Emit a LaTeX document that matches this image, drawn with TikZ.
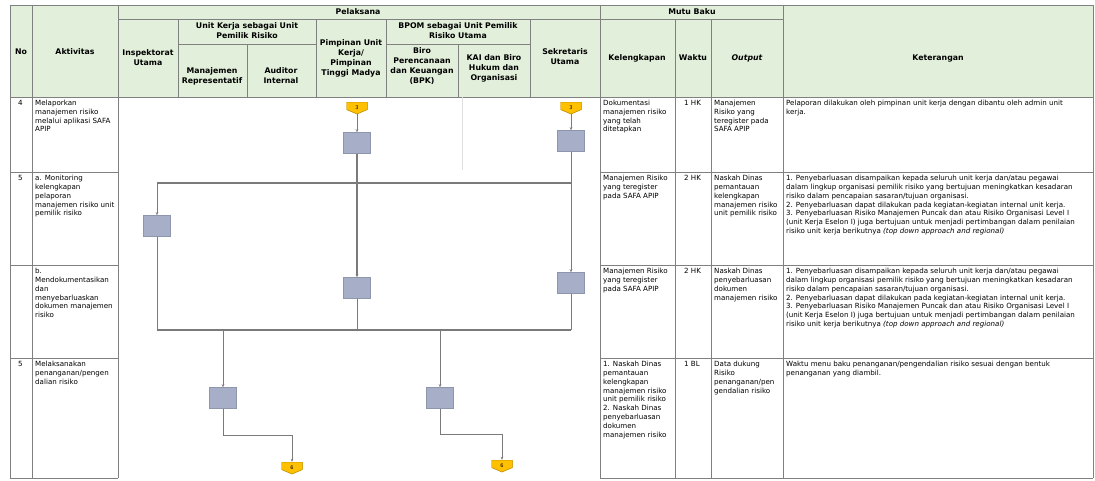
\documentclass[tikz,border=0pt]{standalone}
\usepackage{fontspec}
\setmainfont{DejaVu Sans}
\usetikzlibrary{arrows.meta}
\definecolor{hdr}{HTML}{E2EFDA}
\definecolor{gridc}{HTML}{808080}
\definecolor{procf}{HTML}{A7AFC8}
\definecolor{procd}{HTML}{8E96AE}
\definecolor{connf}{HTML}{FFC000}
\definecolor{connd}{HTML}{C08F00}
\definecolor{flowc}{HTML}{7A7A7A}
\begin{document}
\begin{tikzpicture}[x=1pt,y=-1pt,
 hd/.style={font=\fontsize{7.8}{10}\selectfont\bfseries, align=center, inner sep=0},
 bt/.style={font=\fontsize{7.1}{8.8}\selectfont, align=left, anchor=north west, inner sep=0},
 gl/.style={draw=gridc, line width=0.8pt},
 proc/.style={rectangle, fill=procf, draw=procd, line width=0.6pt, minimum width=27pt, minimum height=21pt, inner sep=0},
 conn/.style={rectangle, minimum width=21pt, minimum height=12pt, inner sep=0, font=\fontsize{5}{5}\selectfont,
   path picture={\filldraw[fill=connf, draw=connd, line width=0.6pt]
     (path picture bounding box.north west) -- (path picture bounding box.north east)
     -- ([yshift=4.5pt]path picture bounding box.south east) -- (path picture bounding box.south)
     -- ([yshift=4.5pt]path picture bounding box.south west) -- cycle;}},
 fl/.style={draw=flowc, line width=1pt},
 ar/.style={fl, -{Stealth[length=3pt,width=2.6pt]}},
]
\useasboundingbox (0,0) rectangle (1095,480);
\fill[white] (0,0) rectangle (1095,480);
% header fill
\fill[hdr] (10,5) rectangle (1093,97);
% grid: horizontal
\draw[gl] (10,5) -- (1093,5);
\draw[gl] (118,19) -- (600,19);
\draw[gl] (600,19) -- (783,19);
\draw[gl] (178,44) -- (316,44);
\draw[gl] (386,44) -- (530,44);
\draw[gl] (10,97) -- (1093,97);
\foreach \yy in {172,265,358,478}{
  \draw[gl] (10,\yy) -- (118,\yy);
  \draw[gl] (600,\yy) -- (1093,\yy);
}
% grid: vertical
\foreach \xx in {10,32,118,600,783,1093}{\draw[gl] (\xx,5) -- (\xx,478);}
\foreach \xx in {675,711}{\draw[gl] (\xx,19) -- (\xx,478);}
\foreach \xx in {178,316,386,530}{\draw[gl] (\xx,19) -- (\xx,97);}
\foreach \xx in {247,458}{\draw[gl] (\xx,44) -- (\xx,97);}
\draw[gridc!25, line width=0.5pt] (462,97) -- (462,170);
% header texts
\node[hd] (hno) at (21,52) {No};
\node[hd] (hakt) at (75,52) {Aktivitas};
\node[hd] (hpel) at (358,12) {Pelaksana};
\node[hd] (hiu) at (148,58) {Inspektorat\\Utama};
\node[hd] (huk) at (247,31) {Unit Kerja sebagai Unit\\Pemilik Risiko};
\node[hd] (hmr) at (212,76) {Manajemen\\Representatif};
\node[hd] (hai) at (281,76) {Auditor\\Internal};
\node[hd] (hpu) at (351,58) {Pimpinan Unit\\Kerja/\\Pimpinan\\Tinggi Madya};
\node[hd] (hbp) at (458,31) {BPOM sebagai Unit Pemilik\\Risiko Utama};
\node[hd] (hbk) at (422,66) {Biro\\Perencanaan\\dan Keuangan\\(BPK)};
\node[hd] (hkai) at (494,68) {KAI dan Biro\\Hukum dan\\Organisasi};
\node[hd] (hsu) at (565,57) {Sekretaris\\Utama};
\node[hd] (hmb) at (692,12) {Mutu Baku};
\node[hd] (hkl) at (637,58) {Kelengkapan};
\node[hd] (hwk) at (693,58) {Waktu};
\node[hd, font=\fontsize{7.8}{10}\selectfont\bfseries\itshape] (hout) at (747,58) {Output};
\node[hd] (hket) at (938,58) {Keterangan};
% row 4
\node[bt] (n4) at (18,100) {4};
\node[bt] (a4) at (35,100) {Melaporkan\\manajemen risiko\\melalui aplikasi SAFA\\APIP};
\node[bt] (k4) at (603,100) {Dokumentasi\\manajemen risiko\\yang telah\\ditetapkan};
\node[bt] (w4) at (684,100) {1 HK};
\node[bt] (o4) at (714,100) {Manajemen\\Risiko yang\\teregister pada\\SAFA APIP};
\node[bt] (t4) at (786,100) {Pelaporan dilakukan oleh pimpinan unit kerja dengan dibantu oleh admin unit\\kerja.};
% row 5a
\node[bt] (n5) at (18,175) {5};
\node[bt] (a5) at (35,175) {a. Monitoring\\kelengkapan\\pelaporan\\manajemen risiko unit\\pemilik risiko};
\node[bt] (k5) at (603,175) {Manajemen Risiko\\yang teregister\\pada SAFA APIP};
\node[bt] (w5) at (684,175) {2 HK};
\node[bt] (o5) at (714,175) {Naskah Dinas\\pemantauan\\kelengkapan\\manajemen risiko\\unit pemilik risiko};
\node[bt] (t5) at (786,175) {1. Penyebarluasan disampaikan kepada seluruh unit kerja dan/atau pegawai\\dalam lingkup organisasi pemilik risiko yang bertujuan meningkatkan kesadaran\\risiko dalam pencapaian sasaran/tujuan organisasi.\\2. Penyebarluasan dapat dilakukan pada kegiatan-kegiatan internal unit kerja.\\3. Penyebarluasan Risiko Manajemen Puncak dan atau Risiko Organisasi Level I\\(unit Kerja Eselon I) juga bertujuan untuk menjadi pertimbangan dalam penilaian\\risiko unit kerja berikutnya \textit{(top down approach and regional)}};
% row 5b
\node[bt] (a5b) at (35,268) {b.\\Mendokumentasikan\\dan\\menyebarluaskan\\dokumen manajemen\\risiko};
\node[bt] (k5b) at (603,268) {Manajemen Risiko\\yang teregister\\pada SAFA APIP};
\node[bt] (w5b) at (684,268) {2 HK};
\node[bt] (o5b) at (714,268) {Naskah Dinas\\penyebarluasan\\dokumen\\manajemen risiko};
\node[bt] (t5b) at (786,268) {1. Penyebarluasan disampaikan kepada seluruh unit kerja dan/atau pegawai\\dalam lingkup organisasi pemilik risiko yang bertujuan meningkatkan kesadaran\\risiko dalam pencapaian sasaran/tujuan organisasi.\\2. Penyebarluasan dapat dilakukan pada kegiatan-kegiatan internal unit kerja.\\3. Penyebarluasan Risiko Manajemen Puncak dan atau Risiko Organisasi Level I\\(unit Kerja Eselon I) juga bertujuan untuk menjadi pertimbangan dalam penilaian\\risiko unit kerja berikutnya \textit{(top down approach and regional)}};
% row 6
\node[bt] (n6) at (18,361) {5};
\node[bt] (a6) at (35,361) {Melaksanakan\\penanganan/pengen\\dalian risiko};
\node[bt] (k6) at (603,361) {1. Naskah Dinas\\pemantauan\\kelengkapan\\manajemen risiko\\unit pemilik risiko\\2. Naskah Dinas\\penyebarluasan\\dokumen\\manajemen risiko};
\node[bt] (w6) at (684,361) {1 BL};
\node[bt] (o6) at (714,361) {Data dukung\\Risiko\\penanganan/pen\\gendalian risiko};
\node[bt] (t6) at (786,361) {Waktu menu baku penanganan/pengendalian risiko sesuai dengan bentuk\\penanganan yang diambil.};
% flow nodes
\node[conn] (c1) at (357,108) {3};
\node[conn] (c2) at (571,108) {3};
\node[proc] (p1) at (357,143) {};
\node[proc] (p2) at (571,141) {};
\node[proc] (p3) at (157,226) {};
\node[proc] (p4) at (357,288) {};
\node[proc] (p5) at (571,283) {};
\node[proc] (p6) at (223,398) {};
\node[proc] (p7) at (440,398) {};
\node[conn] (c3) at (292,468) {6};
\node[conn] (c4) at (502,466) {6};
\coordinate (j1) at (157,183);
\coordinate (j2) at (571,183);
\coordinate (k1) at (157,330);
\coordinate (k2) at (571,330);
\coordinate (k3) at (223,330);
\coordinate (k4) at (440,330);
\coordinate (b1) at (223,435);
\coordinate (b2) at (292,435);
\coordinate (b3) at (440,434);
\coordinate (b4) at (502,434);
% flow connectors
\draw[ar] (c1) -- (p1);
\draw[ar] (c2) -- (p2);
\draw[ar, line width=1.3pt] (p1) -- (p4);
\draw[ar] (p2) -- (p5);
\draw[fl, line width=1.3pt] (j1) -- (j2);
\draw[ar] (j1) -- (p3);
\draw[fl] (p3) -- (k1);
\draw[fl] (p4) -- (p4 |- k1);
\draw[fl] (p5) -- (k2);
\draw[fl, line width=1.3pt] (k1) -- (k2);
\draw[ar] (k3) -- (p6);
\draw[ar] (k4) -- (p7);
\draw[ar] (p6) -- (b1) -- (b2) -- (c3);
\draw[ar] (p7) -- (b3) -- (b4) -- (c4);
\end{tikzpicture}
\end{document}
